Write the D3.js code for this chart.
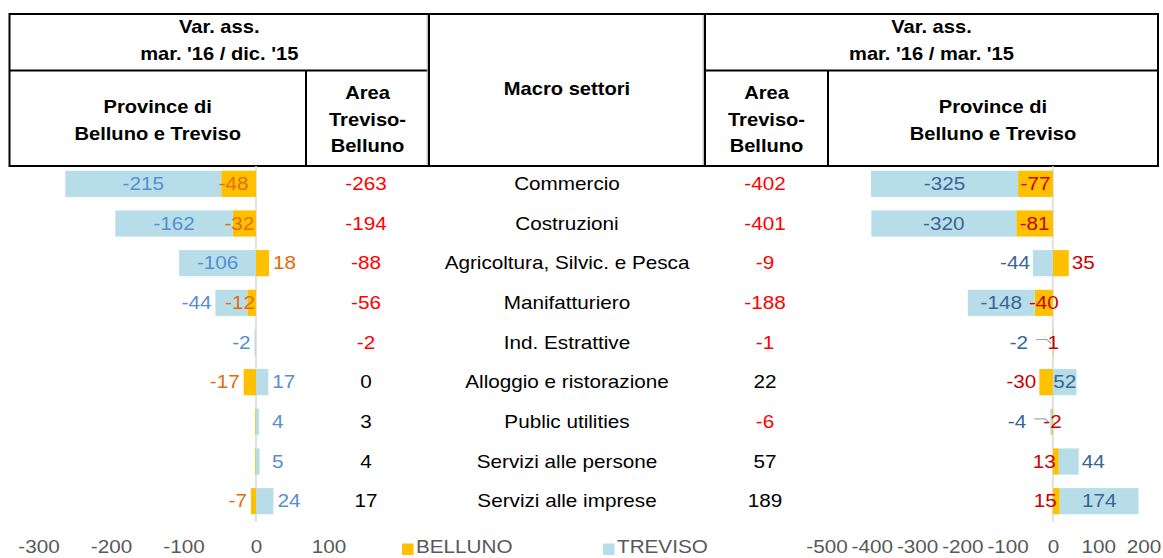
<!DOCTYPE html>
<html><head><meta charset="utf-8">
<script src="https://cdn.jsdelivr.net/npm/d3@7"></script>
<style>html,body{margin:0;padding:0;background:#fff;}svg{display:block;font-family:"Liberation Sans",Arial,sans-serif;}</style>
</head><body>
<svg id="c" width="1163" height="558"></svg>
<script>
const categories = ["Commercio","Costruzioni","Agricoltura, Silvic. e Pesca","Manifatturiero","Ind. Estrattive","Alloggio e ristorazione","Public utilities","Servizi alle persone","Servizi alle imprese"];
const bellunoDic = [-48,-32,18,-12,0,-17,-1,-1,-7];
const trevisoDic = [-215,-162,-106,-44,-2,17,4,5,24];
const areaDic = [-263,-194,-88,-56,-2,0,3,4,17];
const bellunoMar = [-77,-81,35,-40,1,-30,-2,13,15];
const trevisoMar = [-325,-320,-44,-148,-2,52,-4,44,174];
const areaMar = [-402,-401,-9,-188,-1,22,-6,57,189];
const leftTicks = [-300,-200,-100,0,100];
const rightTicks = [-500,-400,-300,-200,-100,0,100,200];
const seriesNames = ["BELLUNO","TREVISO"];
const headLeft = ["Var. ass.","mar. '16 / dic. '15"];
const headRight = ["Var. ass.","mar. '16 / mar. '15"];
const headProv = ["Province di","Belluno e Treviso"];
const headArea = ["Area","Treviso-","Belluno"];
const headMid = "Macro settori";

(function(){
const SX = 1.15;
const C = {orange:"#FFC000", blue:"#B7DEE8", lBlueTxt:"#558ED5", lOrTxt:"#E46C0A", rBlueTxt:"#3A6499", rOrTxt:"#CC0000", axis:"#595959", zero:"#D9D9D9"};
const svg = d3.select("#c");

function T(g, x, y, s, o) {
  o = o || {};
  return g.append("text")
    .attr("transform", `translate(${x},${y}) scale(${SX},1)`)
    .attr("text-anchor", o.anchor || "middle")
    .attr("dy", o.dy == null ? "0.35em" : o.dy)
    .attr("font-size", o.size || 18)
    .attr("font-weight", o.bold ? "bold" : "normal")
    .attr("fill", o.fill || "#000")
    .text(s);
}

// ---------- header boxes ----------
const yTop = 14, yMid = 70.5, yBot = 166;
const xL0 = 9.5, xL1 = 429, xR0 = 705, xR1 = 1158, xLd = 306, xRd = 828;
const hg = svg.append("g").attr("stroke", "#000").attr("stroke-width", 2).attr("fill", "none");
hg.append("rect").attr("x", xL0).attr("y", yTop).attr("width", xR1 - xL0).attr("height", yBot - yTop);
[[xL1, yTop, xL1, yBot],[xR0, yTop, xR0, yBot],[xL0, yMid, xL1, yMid],[xR0, yMid, xR1, yMid],[xLd, yMid, xLd, yBot],[xRd, yMid, xRd, yBot]]
  .forEach(l => hg.append("line").attr("x1", l[0]).attr("y1", l[1]).attr("x2", l[2]).attr("y2", l[3]));
svg.append("line").attr("x1", xL1 - 1.8).attr("x2", xL1 - 1.8).attr("y1", yTop + 1).attr("y2", yBot - 1).attr("stroke", "#aaa").attr("stroke-width", 1);
svg.append("line").attr("x1", xR0 - 1.8).attr("x2", xR0 - 1.8).attr("y1", yTop + 1).attr("y2", yBot - 1).attr("stroke", "#aaa").attr("stroke-width", 1);

const hb = {bold: true, size: 17.5, dy: 0};
headLeft.forEach((s, i) => T(svg, (xL0 + xL1) / 2, 33 + i * 27, s, hb));
headRight.forEach((s, i) => T(svg, (xR0 + xR1) / 2, 33 + i * 27, s, hb));
headProv.forEach((s, i) => { T(svg, (xL0 + xLd) / 2, 113 + i * 27, s, hb); T(svg, (xRd + xR1) / 2, 113 + i * 27, s, hb); });
headArea.forEach((s, i) => { T(svg, (xLd + xL1) / 2, 99 + i * 26.5, s, hb); T(svg, (xR0 + xRd) / 2, 99 + i * 26.5, s, hb); });
T(svg, (xL1 + xR0) / 2, 95, headMid, hb);

// ---------- scales ----------
const y = d3.scaleBand().domain(categories).range([164, 521]);
const bh = y.bandwidth() * 0.66;
const yc = c => y(c) + y.bandwidth() / 2;
const xl = d3.scaleLinear().domain([-300, 100]).range([38.5, 328.5]);
const xr = d3.scaleLinear().domain([-500, 200]).range([826.5, 1143.5]);

function rows(b, t) { return categories.map((c, i) => ({cat: c, b: b[i], t: t[i]})); }
const stack = d3.stack().keys(["b", "t"]).offset(d3.stackOffsetDiverging);

function drawPanel(x, bVals, tVals, ticks, side) {
  const data = rows(bVals, tVals);
  const st = stack(data);
  const g = svg.append("g");
  g.append("line").attr("x1", x(0)).attr("x2", x(0)).attr("y1", yBot).attr("y2", 522).attr("stroke", C.zero).attr("stroke-width", 1.5);
  const colors = {b: C.orange, t: C.blue};
  st.forEach(s => {
    g.append("g").selectAll("rect").data(s).join("rect")
      .attr("x", d => x(Math.min(d[0], d[1])))
      .attr("width", d => Math.abs(x(d[1]) - x(d[0])))
      .attr("y", d => yc(d.data.cat) - bh / 2)
      .attr("height", bh)
      .attr("fill", colors[s.key]);
  });
  const ax = d3.axisBottom(x).tickValues(ticks).tickSize(0).tickFormat(d3.format("d"));
  const axg = g.append("g").attr("transform", "translate(0,540)").call(ax);
  axg.select(".domain").remove();
  axg.selectAll("text").remove();
  axg.selectAll(".tick").each(function(d) {
    T(d3.select(this), 0, 7, String(d), {fill: C.axis, size: 18});
  });
  const sb = st[0], stt = st[1];
  const pad = side === "L" ? 4 : 3;
  const x0 = x(0);
  data.forEach((d, i) => {
    const cy = yc(d.cat);
    const segB = sb[i], segT = stt[i];
    const tc = side === "L" ? C.lBlueTxt : C.rBlueTxt;
    const bc = side === "L" ? C.lOrTxt : C.rOrTxt;
    // Treviso
    {
      const v = d.t, a = x(segT[0]), e = x(segT[1]);
      const lo = Math.min(a, e), hi = Math.max(a, e);
      const big = side === "L" ? 60 : 50;
      if (Math.abs(v) >= big) {
        T(g, (lo + hi) / 2, cy, String(v), {fill: tc});
      } else if (side === "R" && Math.abs(v) < 10) {
        const lx = lo - 24;
        T(g, lx, cy, String(v), {fill: tc, anchor: "end"});
        g.append("path").attr("d", `M${lx + 8},${cy - 3}H${lo - 5}L${lo - 1},${cy + 1}`)
          .attr("fill", "none").attr("stroke", "#A6A6A6").attr("stroke-width", 1.2);
      } else if (v < 0) {
        T(g, lo - pad, cy, String(v), {fill: tc, anchor: "end"});
      } else {
        T(g, Math.max(hi + pad, side === "L" ? x0 + 16 : hi + pad), cy, String(v), {fill: tc, anchor: "start"});
      }
    }
    // Belluno
    {
      const v = d.b, a = x(segB[0]), e = x(segB[1]);
      const lo = Math.min(a, e), hi = Math.max(a, e);
      const same = Math.sign(v) === Math.sign(d.t);
      if (side === "L") {
        if (Math.abs(v) < 2) return;
        if (Math.abs(v) >= 25) T(g, (lo + hi) / 2 - 5, cy, String(v), {fill: bc});
        else if (same && v < 0) T(g, x0 - 1, cy, String(v), {fill: bc, anchor: "end"});
        else if (v < 0) T(g, lo - pad, cy, String(v), {fill: bc, anchor: "end"});
        else T(g, hi + pad, cy, String(v), {fill: bc, anchor: "start"});
      } else {
        if (Math.abs(v) >= 40 || Math.abs(v) < 5) T(g, (lo + hi) / 2, cy, String(v), {fill: bc});
        else if (same && v > 0) T(g, hi - 3, cy, String(v), {fill: bc, anchor: "end"});
        else if (v < 0) T(g, lo - pad, cy, String(v), {fill: bc, anchor: "end"});
        else T(g, hi + pad, cy, String(v), {fill: bc, anchor: "start"});
      }
    }
  });
}
drawPanel(xl, bellunoDic, trevisoDic, leftTicks, "L");
drawPanel(xr, bellunoMar, trevisoMar, rightTicks, "R");

categories.forEach((c, i) => {
  const cy = yc(c);
  T(svg, (xLd + xL1) / 2 - 1.5, cy, String(areaDic[i]), {fill: areaDic[i] < 0 ? "#FF0000" : "#000"});
  T(svg, (xL1 + xR0) / 2, cy, c, {fill: "#000"});
  T(svg, (xR0 + xRd) / 2 - 1.5, cy, String(areaMar[i]), {fill: areaMar[i] < 0 ? "#FF0000" : "#000"});
});

const lg = svg.append("g");
const legX = [402, 603], legC = [C.orange, C.blue];
seriesNames.forEach((n, i) => {
  lg.append("rect").attr("x", legX[i]).attr("y", 543.5).attr("width", 11.5).attr("height", 11.5).attr("fill", legC[i]);
  T(lg, legX[i] + 14, 547, n, {anchor: "start", fill: C.axis, size: 18});
});
})();
</script>
</body></html>
